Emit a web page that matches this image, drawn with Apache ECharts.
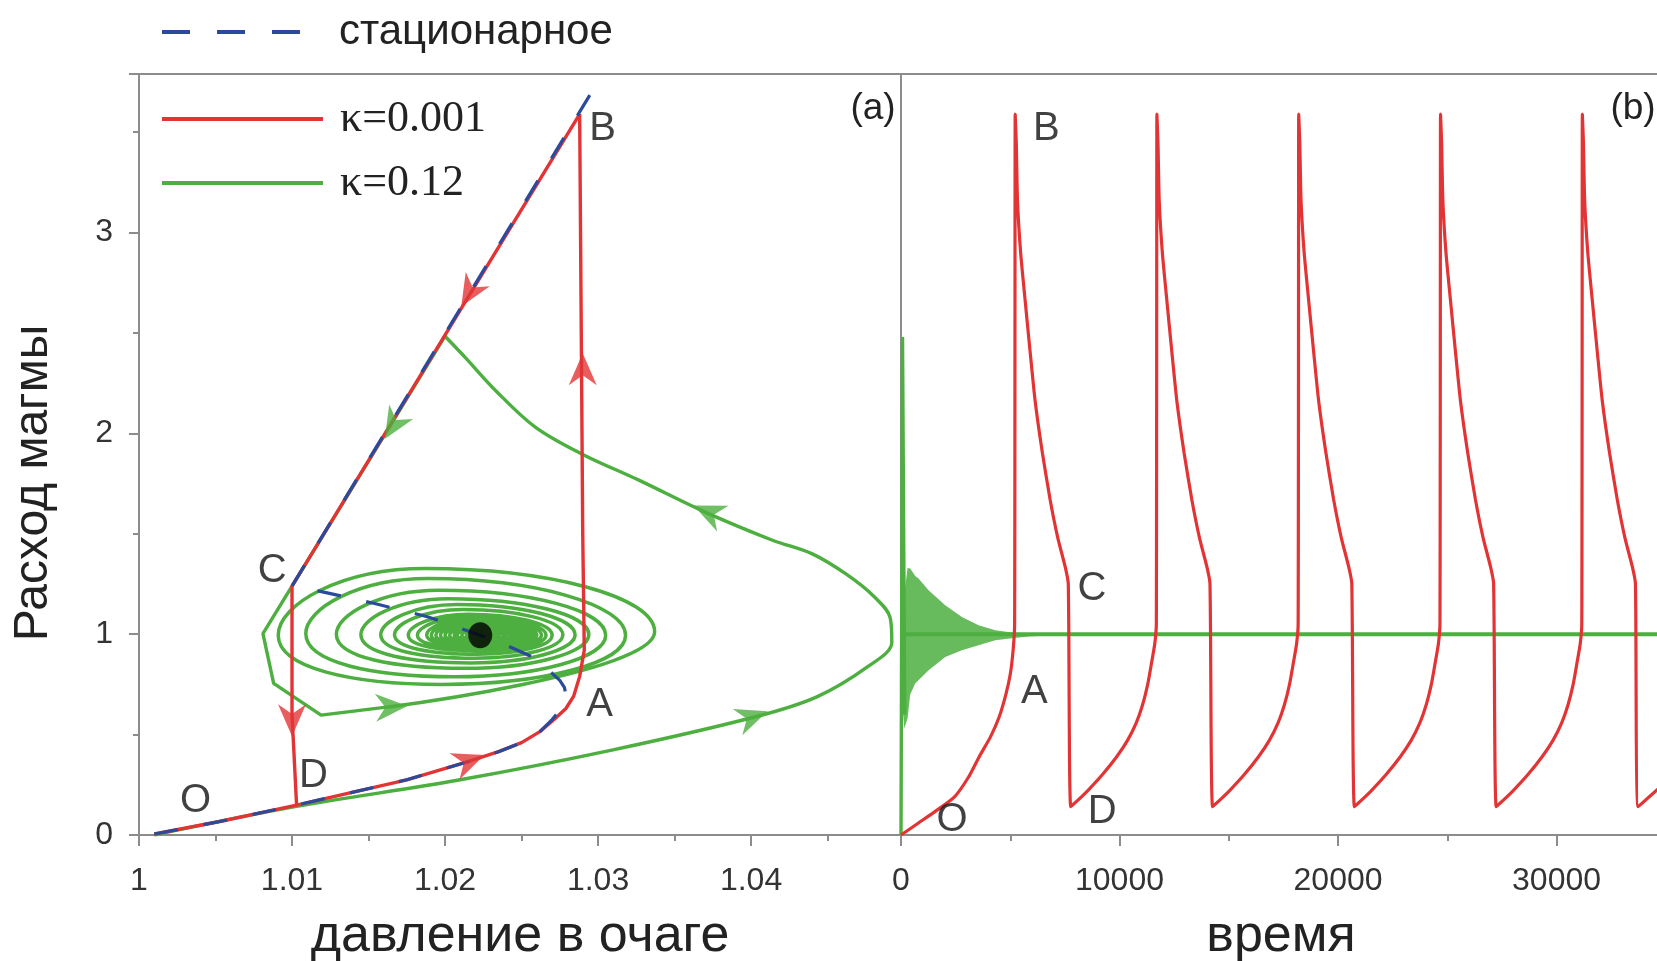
<!DOCTYPE html>
<html>
<head>
<meta charset="utf-8">
<title>Расход магмы</title>
<script src="https://cdn.jsdelivr.net/npm/echarts/dist/echarts.min.js"></script>
<style>
  html, body { margin: 0; padding: 0; background: #fff; }
  #main { width: 1657px; height: 961px; }
</style>
</head>
<body>
<div id="main"></div>
<script>
// ---- (a) phase plane: давление в очаге vs расход магмы ----
const stationary = [
  [1.0010, 0.005], [1.0052, 0.066], [1.0103, 0.149], [1.0135, 0.205], [1.0175, 0.275],
  [1.0215, 0.365], [1.0235, 0.415], [1.0250, 0.460], [1.0262, 0.515], [1.0270, 0.575],
  [1.0275, 0.620], [1.0278, 0.660], [1.0279, 0.700], [1.0278, 0.735], [1.0275, 0.770],
  [1.0270, 0.805], [1.0264, 0.845], [1.0257, 0.887], [1.0240, 0.945], [1.0223, 0.995],
  [1.0189, 1.086], [1.0154, 1.153], [1.0117, 1.216], [1.0100, 1.240], [1.0303, 3.790]
];
const redPhase = [
  [1.0010, 0.005], [1.0052, 0.066], [1.0103, 0.149], [1.0135, 0.205], [1.0175, 0.275],
  [1.0215, 0.365], [1.0235, 0.415], [1.0250, 0.460], [1.0262, 0.515], [1.0272, 0.580],
  [1.0279, 0.630], [1.0284, 0.690], [1.0288, 0.790], [1.0291, 0.920], [1.0290, 1.500],
  [1.0288, 3.590], [1.0100, 1.240], [1.0100, 0.600], [1.0103, 0.149]
];
const greenApproach = [
  [1.0010, 0.000], [1.0102, 0.141], [1.0209, 0.274], [1.0309, 0.423], [1.0403, 0.589],
  [1.0443, 0.688], [1.0476, 0.837], [1.0492, 0.960], [1.0491, 1.080], [1.0480, 1.190],
  [1.0462, 1.300], [1.0440, 1.400], [1.0414, 1.468], [1.0370, 1.608], [1.0327, 1.766],
  [1.0289, 1.899], [1.0259, 2.031], [1.0233, 2.214], [1.0213, 2.380], [1.0200, 2.484]
];
const greenDescent = [
  [1.0200, 2.484], [1.0100, 1.240], [1.0081, 1.003], [1.0088, 0.755], [1.0119, 0.597],
  [1.0163, 0.638]
];
// turns of the spiral: right, top, left, bottom of each turn
const greenSpiral = [
  [1.0163, 0.638],
  [1.0337, 1.012], [1.0187, 1.327], [1.0091, 0.995], [1.0198, 0.750],
  [1.0318, 0.995], [1.0189, 1.277], [1.0109, 1.003], [1.0206, 0.788],
  [1.0305, 0.995], [1.0196, 1.219], [1.0129, 1.000], [1.0213, 0.830],
  [1.0294, 0.998], [1.0202, 1.177], [1.0145, 0.998], [1.0217, 0.857],
  [1.0285, 0.997], [1.0208, 1.148], [1.0158, 0.997], [1.0219, 0.880],
  [1.0277, 0.997], [1.0212, 1.123], [1.0167, 0.997], [1.0221, 0.900],
  [1.0270, 0.995], [1.0215, 1.100], [1.0176, 0.995], [1.0222, 0.918],
  [1.0266, 0.995], [1.0216, 1.088], [1.0182, 0.995], [1.0222, 0.930],
  [1.0263, 0.995], [1.0217, 1.078], [1.0188, 0.995], [1.0222, 0.940],
  [1.0260, 0.995], [1.0218, 1.069], [1.0191, 0.995], [1.0222, 0.947],
  [1.0258, 0.995], [1.0219, 1.062], [1.0194, 0.995], [1.0222, 0.953],
  [1.0256, 0.995], [1.0220, 1.055], [1.0197, 0.995], [1.0223, 0.958],
  [1.0254, 0.995], [1.0220, 1.049], [1.0200, 0.995], [1.0223, 0.962],
  [1.0252, 0.995], [1.0221, 1.043], [1.0203, 0.995], [1.0223, 0.967],
  [1.0250, 0.995], [1.0221, 1.037], [1.0206, 0.995], [1.0223, 0.971],
  [1.0248, 0.995], [1.0222, 1.031], [1.0208, 0.995], [1.0223, 0.975],
  [1.0246, 0.995], [1.0222, 1.025], [1.0211, 0.995], [1.0223, 0.979],
  [1.0244, 0.995], [1.0222, 1.019], [1.0214, 0.995], [1.0223, 0.983],
  [1.0240, 0.995], [1.0222, 1.012], [1.0217, 0.995], [1.0223, 0.988],
  [1.0235, 0.995], [1.0222, 1.006], [1.0220, 0.995], [1.0223, 0.991],
  [1.0223, 0.995]
];
const equilibrium = [[1.0223, 0.995]];
// arrow heads: x, y, rotation (deg, counterclockwise from "up")
const redArrows = [[1.0216, 2.70, 149], [1.0290, 2.32, 0], [1.0100, 0.572, 180], [1.0216, 0.370, -69]];
const greenArrows = [[1.0166, 2.04, 149], [1.0372, 1.608, 66], [1.0165, 0.638, -87], [1.0401, 0.589, -70]];
const phaseLabels = [['B', 1.0303, 3.516], ['C', 1.0087, 1.315], ['A', 1.0301, 0.648], ['D', 1.0114, 0.295], ['O', 1.0037, 0.170]];

// ---- (b) time series ----
const redRiseFromO = [
  [0, 0], [800, 0.06], [1600, 0.12], [2450, 0.19], [3100, 0.29], [3580, 0.39],
  [4100, 0.49], [4500, 0.59], [4800, 0.70], [5000, 0.80], [5130, 0.92], [5200, 1.05]
];
const upstrokes = [5225, 11710, 18200, 24690, 31180];
// shape after an upstroke: peak, decay to C (time offset, value)
const cycleFall = [
  [0, 3.59], [20, 3.59], [50, 3.45], [107, 3.16], [250, 2.90], [458, 2.66],
  [690, 2.40], [915, 2.16], [1250, 1.90], [1600, 1.67], [1950, 1.48],
  [2290, 1.335], [2430, 1.252]
];
// shape before an upstroke: D and the slow rise (time offset, value)
const cycleRise = [
  [-3940, 0.141], [-3600, 0.175], [-3140, 0.224], [-2500, 0.30], [-1840, 0.39],
  [-1350, 0.47], [-940, 0.56], [-650, 0.65], [-420, 0.75], [-240, 0.86],
  [-100, 0.95], [-25, 1.05]
];
const redTail = [[33735, 0.141], [34800, 0.245]];
const greenSpike = [[0, 0], [70, 2.48], [130, 2.48], [170, 0.60]];
const greenUpper = [
  [100, 0.60], [150, 1.20], [300, 1.33], [421, 1.327], [650, 1.29], [803, 1.277],
  [1262, 1.219], [2024, 1.144], [2787, 1.086], [3550, 1.045], [4313, 1.020],
  [5076, 1.009], [5838, 1.003], [7000, 1.0]
];
const greenLower = [
  [100, 0.60], [150, 0.53], [300, 0.58], [421, 0.70], [650, 0.755], [1262, 0.821],
  [2024, 0.887], [2787, 0.920], [3550, 0.945], [4313, 0.970], [5076, 0.980],
  [5838, 0.988], [7000, 0.995]
];
const greenSteady = [[150, 1.0], [34800, 1.0]];
const timeLabels = [['B', 6650, 3.516], ['C', 8737, 1.227], ['A', 6100, 0.713], ['O', 2339, 0.075], ['D', 9208, 0.116]];

const FONT = "'Liberation Sans', Arial, sans-serif";
const SERIF = "'Liberation Serif', 'Times New Roman', serif";
const RED = '#e23434';
const GREEN = '#4caf3f';
const BLUE = '#2b4a9b';
const AXIS = '#8c8c8c';
const ARROW = 'path://M0,0 L11,26 L0,18 L-11,26 Z';

const redTime = redRiseFromO.slice();
upstrokes.forEach((u, i) => {
  cycleFall.forEach(([dt, y]) => redTime.push([u + dt, y]));
  const next = upstrokes[i + 1];
  if (next !== undefined) {
    cycleRise.forEach(([dt, y]) => redTime.push([next + dt, y]));
  }
});
redTail.forEach((p) => redTime.push(p));

const chart = echarts.init(document.getElementById('main'));

function valueAxis(extra) {
  return Object.assign({
    type: 'value',
    axisLine: { show: true, onZero: false, lineStyle: { color: AXIS, width: 2 } },
    axisTick: { show: true, inside: false, length: 11, lineStyle: { color: AXIS, width: 2 } },
    minorTick: { show: true, splitNumber: 2, length: 6, lineStyle: { color: AXIS, width: 2 } },
    splitLine: { show: false },
    minorSplitLine: { show: false },
    nameTextStyle: { fontFamily: FONT, fontSize: 52, color: '#222' },
  }, extra);
}

function labelSeries(list, idx) {
  return {
    type: 'scatter',
    name: 'labels' + idx,
    xAxisIndex: idx,
    yAxisIndex: idx,
    symbolSize: 0,
    silent: true,
    data: list.map((d) => [d[1], d[2], d[0]]),
    encode: { x: 0, y: 1 },
    label: {
      show: true,
      position: 'inside',
      formatter: (p) => p.data[2],
      fontFamily: FONT,
      fontSize: 40,
      color: '#111',
    },
    z: 6,
  };
}

const legendCommon = {
  selectedMode: false,
  itemHeight: 4,
  itemStyle: { opacity: 0 },
};

const option = {
  animation: false,
  backgroundColor: '#fff',
  grid: [
    { left: 139, top: 74, width: 762, height: 761, show: true, borderColor: AXIS, borderWidth: 2, outerBoundsMode: 'none' },
    { left: 901, top: 74, width: 760, height: 761, show: true, borderColor: AXIS, borderWidth: 2, outerBoundsMode: 'none' },
  ],
  legend: [
    Object.assign({
      data: ['стационарное'],
      left: 155,
      top: 6,
      itemWidth: 138,
      lineStyle: { type: [28, 27], width: 4 },
      textStyle: { fontFamily: FONT, fontSize: 42, lineHeight: 42, color: '#222', padding: [0, 0, 0, 34] },
    }, legendCommon),
    Object.assign({
      data: ['κ=0.001', 'κ=0.12'],
      orient: 'vertical',
      left: 155,
      top: 92,
      itemWidth: 161,
      itemGap: 20,
      lineStyle: { width: 4 },
      textStyle: { fontFamily: SERIF, fontSize: 44, lineHeight: 44, color: '#222', padding: [0, 0, 0, 12] },
    }, legendCommon),
  ],
  xAxis: [
    valueAxis({
      gridIndex: 0, min: 1, max: 1.0498, interval: 0.01,
      name: 'давление в очаге', nameLocation: 'middle', nameGap: 76,
      axisLabel: {
        fontFamily: FONT, fontSize: 32, color: '#333', margin: 30,
        showMaxLabel: false,
        formatter: (v) => String(+v.toFixed(2)),
      },
    }),
    valueAxis({
      gridIndex: 1, min: 0, max: 34780, interval: 10000,
      name: 'время', nameLocation: 'middle', nameGap: 76,
      axisLabel: {
        fontFamily: FONT, fontSize: 32, color: '#333', margin: 30,
        showMaxLabel: false,
        formatter: (v) => String(v),
      },
    }),
  ],
  yAxis: [
    valueAxis({
      gridIndex: 0, min: 0, max: 3.79, interval: 1,
      axisTick: { show: true, inside: false, length: 10, lineStyle: { color: AXIS, width: 2 } },
      axisLabel: { fontFamily: FONT, fontSize: 32, color: '#333', margin: 26, showMaxLabel: false },
    }),
    valueAxis({
      gridIndex: 1, min: 0, max: 3.79,
      axisTick: { show: false },
      minorTick: { show: false },
      axisLabel: { show: false },
    }),
  ],
  graphic: [
    {
      type: 'text', x: 34, y: 483, rotation: Math.PI / 2,
      style: {
        text: 'Расход магмы', font: '48px ' + FONT, fill: '#222',
        textAlign: 'center', textVerticalAlign: 'middle', align: 'center', verticalAlign: 'middle',
      },
    },
    {
      type: 'text', x: 873, y: 109,
      style: {
        text: '(a)', font: '37px ' + FONT, fill: '#222',
        textAlign: 'center', textVerticalAlign: 'middle', align: 'center', verticalAlign: 'middle',
      },
    },
    {
      type: 'text', x: 1633, y: 109,
      style: {
        text: '(b)', font: '37px ' + FONT, fill: '#222',
        textAlign: 'center', textVerticalAlign: 'middle', align: 'center', verticalAlign: 'middle',
      },
    },
  ],
  series: [
    // (a)
    {
      type: 'line', name: 'κ=0.12', xAxisIndex: 0, yAxisIndex: 0,
      data: greenApproach, symbol: 'none', smooth: 0.35,
      lineStyle: { color: GREEN, width: 3.4 }, itemStyle: { color: GREEN },
    },
    {
      type: 'line', name: 'κ=0.12', xAxisIndex: 0, yAxisIndex: 0,
      data: greenDescent, symbol: 'none',
      lineStyle: { color: GREEN, width: 3.4 }, itemStyle: { color: GREEN },
    },
    {
      type: 'line', name: 'κ=0.12', xAxisIndex: 0, yAxisIndex: 0,
      data: greenSpiral, symbol: 'none', smooth: 0.55,
      lineStyle: { color: GREEN, width: 3.5 }, itemStyle: { color: GREEN },
    },
    {
      type: 'line', name: 'κ=0.001', xAxisIndex: 0, yAxisIndex: 0,
      data: redPhase, symbol: 'none',
      lineStyle: { color: RED, width: 3.4 }, itemStyle: { color: RED },
    },
    {
      type: 'line', name: 'стационарное', xAxisIndex: 0, yAxisIndex: 0,
      data: stationary, symbol: 'none',
      lineStyle: { color: BLUE, width: 3.2, type: [24, 26] }, itemStyle: { color: BLUE },
    },
    {
      type: 'scatter', name: 'redArrows', xAxisIndex: 0, yAxisIndex: 0,
      symbol: ARROW, symbolSize: [28, 32], silent: true,
      data: redArrows.map((a) => ({ value: [a[0], a[1]], symbolRotate: a[2] })),
      itemStyle: { color: RED }, z: 4,
    },
    {
      type: 'scatter', name: 'greenArrows', xAxisIndex: 0, yAxisIndex: 0,
      symbol: ARROW, symbolSize: [28, 32], silent: true,
      data: greenArrows.map((a) => ({ value: [a[0], a[1]], symbolRotate: a[2] })),
      itemStyle: { color: GREEN }, z: 4,
    },
    {
      type: 'scatter', name: 'equilibrium', xAxisIndex: 0, yAxisIndex: 0,
      symbol: 'circle', symbolSize: [24, 26], silent: true,
      data: equilibrium, itemStyle: { color: '#000' }, z: 5,
    },
    labelSeries(phaseLabels, 0),
    // (b)
    {
      type: 'custom', name: 'band', xAxisIndex: 1, yAxisIndex: 1,
      coordinateSystem: 'cartesian2d', silent: true,
      data: [[0, 1]],
      renderItem: (params, api) => {
        const pts = greenUpper.map((p) => api.coord(p))
          .concat(greenLower.slice().reverse().map((p) => api.coord(p)));
        return { type: 'polygon', shape: { points: pts }, style: { fill: GREEN, opacity: 0.85 } };
      },
    },
    {
      type: 'line', name: 'κ=0.12', xAxisIndex: 1, yAxisIndex: 1,
      data: greenSpike, symbol: 'none',
      lineStyle: { color: GREEN, width: 3.4 },
    },
    {
      type: 'line', name: 'κ=0.12', xAxisIndex: 1, yAxisIndex: 1,
      data: greenSteady, symbol: 'none',
      lineStyle: { color: GREEN, width: 4 },
    },
    {
      type: 'line', name: 'κ=0.001', xAxisIndex: 1, yAxisIndex: 1,
      data: redTime, symbol: 'none', smooth: 0.2,
      lineStyle: { color: RED, width: 3.2 },
    },
    labelSeries(timeLabels, 1),
  ],
};

chart.setOption(option);
window.addEventListener('resize', () => chart.resize());
</script>
</body>
</html>
